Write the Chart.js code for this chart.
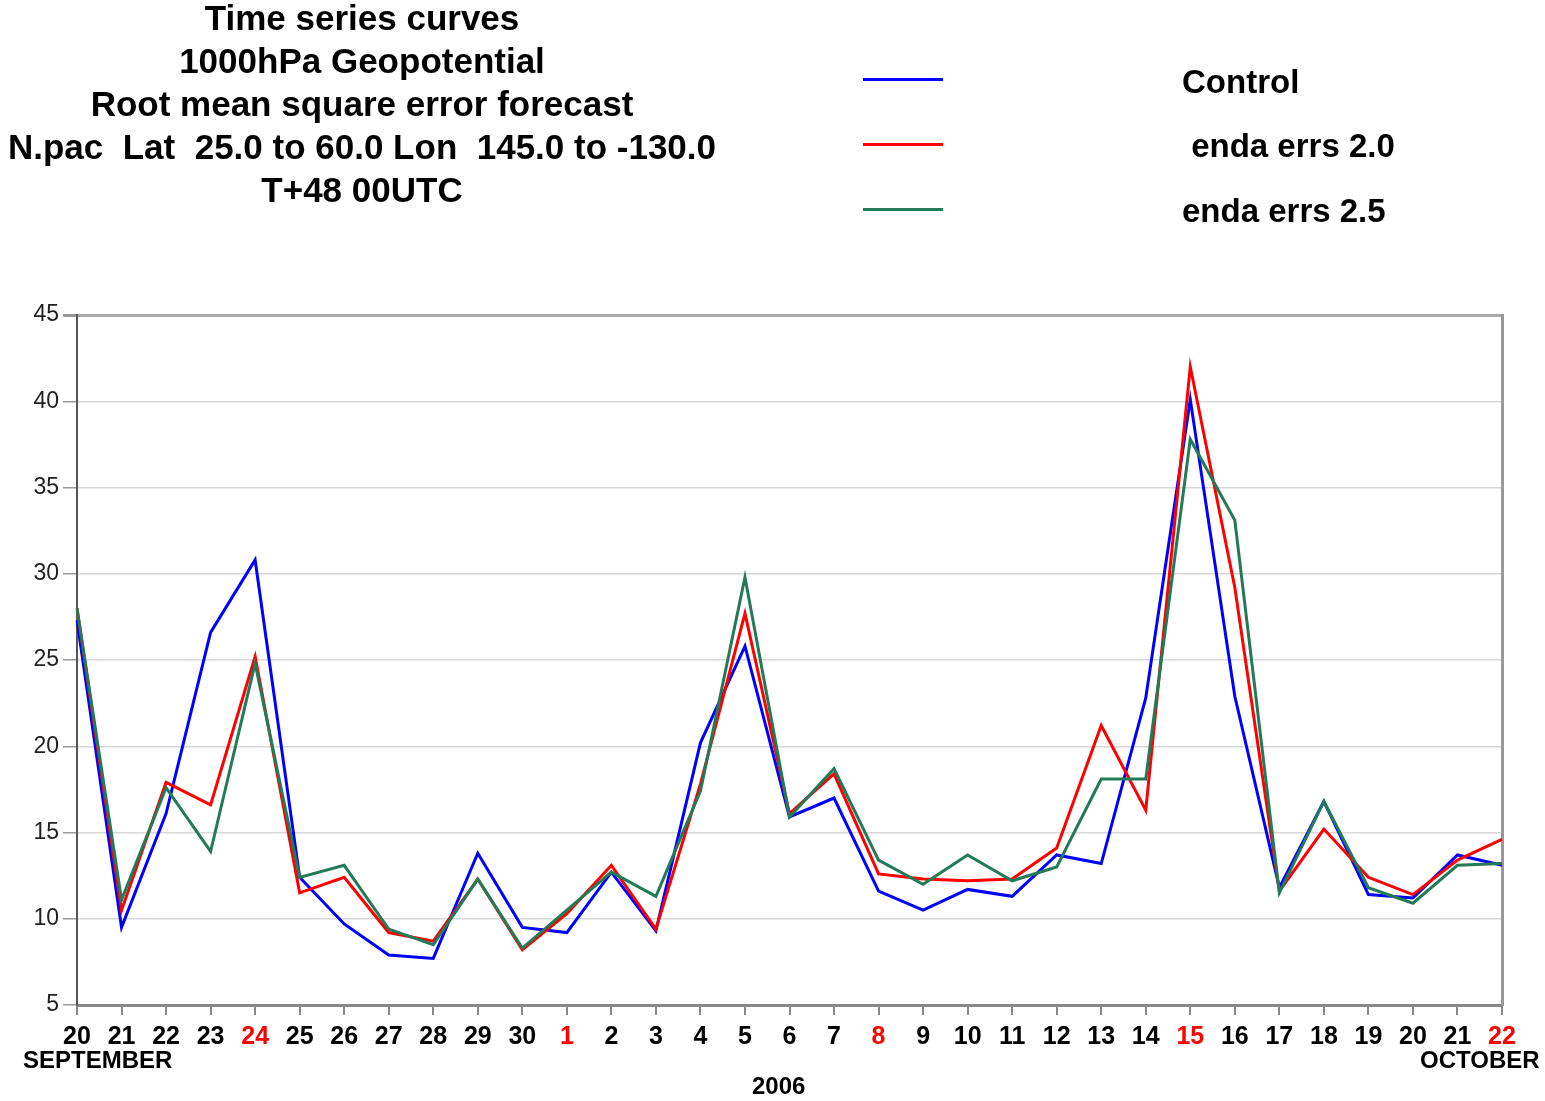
<!DOCTYPE html>
<html>
<head>
<meta charset="utf-8">
<script src="https://cdn.jsdelivr.net/npm/chart.js@4"></script>
<style>
  body { margin: 0; background: #fff; }
  #wrap { position: relative; width: 1545px; height: 1101px; font-family: 'Liberation Sans', Arial, sans-serif; color: #000; }
  #chart { position: absolute; left: 0; top: 0; }
  .txt { position: absolute; white-space: pre; font-weight: bold; }
  .title { left: 0; width: 724px; text-align: center; font-size: 35px; line-height: 40px; }
  .leg-line { position: absolute; left: 863px; width: 80px; height: 3px; }
  .leg-txt { font-size: 33px; line-height: 40px; }
  .axis-txt { font-size: 24px; line-height: 28px; }
</style>
</head>
<body>
<div id="wrap">
  <canvas id="chart" width="1545" height="1101"></canvas>
  <div class="txt title" style="top:-2px">Time series curves</div>
  <div class="txt title" style="top:41px">1000hPa Geopotential</div>
  <div class="txt title" style="top:84px">Root mean square error forecast</div>
  <div class="txt title" style="top:127px">N.pac  Lat  25.0 to 60.0 Lon  145.0 to -130.0</div>
  <div class="txt title" style="top:170px">T+48 00UTC</div>

  <div class="leg-line" style="top:78px;background:#0000ff"></div>
  <div class="leg-line" style="top:143px;background:#ff0000"></div>
  <div class="leg-line" style="top:208px;background:#237a57"></div>
  <div class="txt leg-txt" style="left:1182px;top:62px">Control</div>
  <div class="txt leg-txt" style="left:1182px;top:126px"> enda errs 2.0</div>
  <div class="txt leg-txt" style="left:1182px;top:191px">enda errs 2.5</div>

  <div class="txt axis-txt" style="left:23px;top:1046px">SEPTEMBER</div>
  <div class="txt axis-txt" style="left:1420px;top:1046px">OCTOBER</div>
  <div class="txt axis-txt" style="left:752px;top:1072px">2006</div>
</div>
<script>
const days = [20, 21, 22, 23, 24, 25, 26, 27, 28, 29, 30, 1, 2, 3, 4, 5, 6, 7, 8, 9, 10, 11, 12, 13, 14, 15, 16, 17, 18, 19, 20, 21, 22];
const redDays = [4, 11, 18, 25, 32]; // indexes of the days printed in red

const control = [27.3, 9.5, 16.1, 26.6, 30.8, 12.4, 9.7, 7.9, 7.7, 13.8, 9.5, 9.2, 12.7, 9.3, 20.2, 25.8, 15.9, 17.0, 11.6, 10.5, 11.7, 11.3, 13.7, 13.2, 22.8, 40.1, 22.9, 11.8, 16.8, 11.4, 11.2, 13.7, 13.1];
const endaErrs20 = [28.0, 10.5, 17.9, 16.6, 25.2, 11.5, 12.4, 9.2, 8.7, 12.3, 8.2, 10.3, 13.1, 9.4, 17.8, 27.7, 16.1, 18.4, 12.6, 12.3, 12.2, 12.3, 14.1, 21.2, 16.3, 42.0, 29.2, 11.6, 15.2, 12.4, 11.4, 13.4, 14.6];
const endaErrs25 = [28.0, 11.1, 17.6, 13.9, 24.8, 12.4, 13.1, 9.4, 8.5, 12.3, 8.3, 10.5, 12.7, 11.3, 17.4, 29.8, 15.9, 18.7, 13.4, 12.0, 13.7, 12.2, 13.0, 18.1, 18.1, 37.8, 33.1, 11.5, 16.8, 11.8, 10.9, 13.1, 13.2];

const yMin = 5, yMax = 45, yStep = 5;

new Chart(document.getElementById('chart'), {
    type: 'line',
    data: {
        labels: days,
        datasets: [
            { label: 'Control', data: control, borderColor: '#0000ff', order: 2 },
            { label: 'enda errs 2.0', data: endaErrs20, borderColor: '#ff0000', order: 1 },
            { label: 'enda errs 2.5', data: endaErrs25, borderColor: '#237a57', order: 0 }
        ].map(ds => Object.assign(ds, { borderWidth: 3, pointRadius: 0, tension: 0, fill: false }))
    },
    options: {
        responsive: false,
        animation: false,
        layout: { padding: { top: 315, left: 0, right: 0, bottom: 0 } },
        plugins: {
            legend: { display: false },
            tooltip: { enabled: false }
        },
        scales: {
            x: {
                offset: false,
                afterFit: s => { s.height = 96; },
                border: { color: '#888', width: 3 },
                grid: { drawOnChartArea: false, tickLength: 10, tickColor: '#888', lineWidth: 2 },
                ticks: {
                    autoSkip: false,
                    maxRotation: 0,
                    padding: 7,
                    font: { family: "'Liberation Sans Narrow', 'Liberation Sans'", size: 25, weight: 'bold' },
                    color: ctx => redDays.includes(ctx.index) ? '#ff0000' : '#000'
                }
            },
            y: {
                min: yMin,
                max: yMax,
                afterFit: s => { s.width = 77; },
                border: { color: '#555', width: 2 },
                grid: {
                    color: ctx => ctx.tick && ctx.tick.value === yMax ? '#aaa' : '#d8d8d8',
                    lineWidth: ctx => ctx.tick && ctx.tick.value === yMax ? 3 : 1.5,
                    tickLength: 14,
                    tickColor: '#999'
                },
                ticks: {
                    stepSize: yStep,
                    padding: 4,
                    font: { family: "'Liberation Sans'", size: 23 },
                    color: '#222'
                }
            },
            right: {
                position: 'right',
                min: yMin,
                max: yMax,
                afterFit: s => { s.width = 43; },
                border: { color: '#999', width: 3 },
                grid: { drawOnChartArea: false, drawTicks: false },
                ticks: { display: false }
            }
        }
    }
});
</script>
</body>
</html>
